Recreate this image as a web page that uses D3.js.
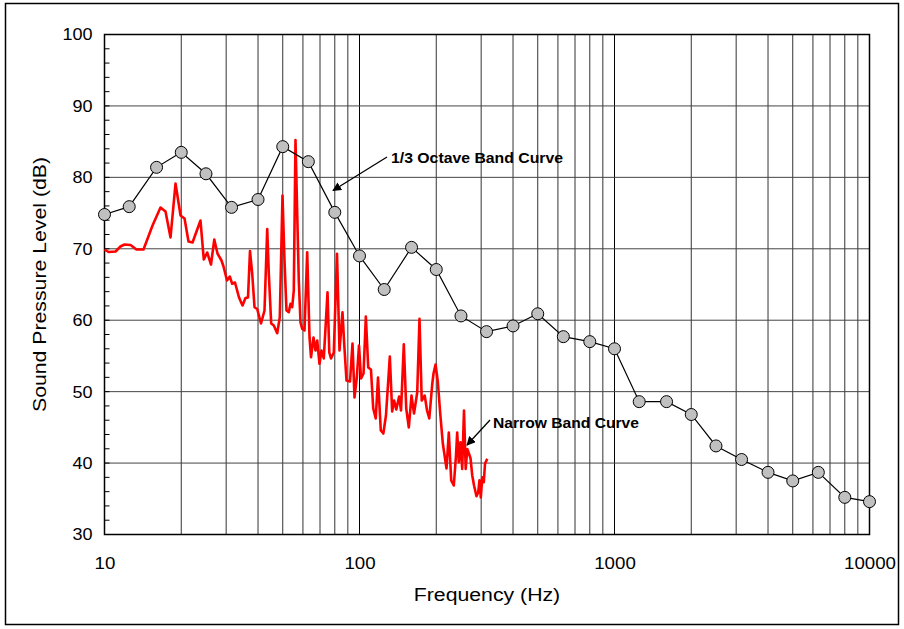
<!DOCTYPE html>
<html><head><meta charset="utf-8">
<script src="https://cdn.jsdelivr.net/npm/d3@7"></script>
<style>body{margin:0;background:#fff}svg{display:block}text{font-family:Arial,"Liberation Sans",sans-serif}</style>
</head><body>
<script>
const octaveFreq = [10,12.5,16,20,25,31.5,40,50,63,80,100,125,160,200,250,315,400,500,630,800,1000,1250,1600,2000,2500,3150,4000,5000,6300,8000,10000];
const octaveDb = [74.8,75.9,81.4,83.5,80.5,75.8,76.9,84.3,82.2,75.1,69.0,64.3,70.2,67.1,60.6,58.4,59.2,60.9,57.7,57.0,56.0,48.6,48.6,46.8,42.4,40.5,38.7,37.5,38.7,35.2,34.6];
const narrowFreq = [10.0,10.37,11.05,11.55,11.98,12.65,13.35,14.22,15.43,16.58,17.35,18.15,18.99,19.87,20.60,21.35,22.14,23.79,24.51,25.28,26.16,26.95,27.74,28.76,29.29,30.23,31.00,31.68,32.49,33.69,34.77,35.72,36.54,37.20,37.95,38.75,39.70,41.09,42.41,43.46,44.09,45.05,46.12,47.56,48.69,49.89,50.80,51.72,52.81,53.63,54.46,55.25,56.10,57.80,58.70,59.61,60.86,62.36,63.67,64.54,66.01,67.22,68.26,69.69,70.96,72.44,74.91,76.13,77.31,79.29,81.62,83.48,85.77,86.94,88.92,91.78,93.87,95.58,97.59,99.55,101.4,103.7,105.9,108.2,110.9,113.2,115.8,118.2,121.2,124.0,127.0,131.5,134.3,136.7,139.4,143.0,145.5,149.2,152.5,156.1,159.9,163.6,168.4,171.9,175.4,180.2,184.0,187.8,192.8,195.1,198.7,202.8,207.3,212.2,219.4,224.0,228.9,234.3,239.0,241.6,245.1,248.9,252.8,256.9,260.9,264.7,272.5,276.7,281.2,287.6,292.1,295.5,299.0,303.1,307.2,310.6,316.8];
const narrowDb = [69.9,69.55,69.62,70.32,70.6,70.53,69.9,69.9,73.26,75.78,75.22,71.58,79.14,74.66,74.24,71.02,70.88,73.96,68.5,69.48,67.8,71.3,69.34,68.36,67.52,65.56,66.12,65.1,65.28,63.18,62.06,63.11,63.18,69.69,66.54,61.82,61.57,59.54,61.36,72.77,66.54,59.54,59.26,58.18,60.42,77.46,68.36,61.36,61.12,62.3,61.82,64.16,85.23,65.56,59.68,58.8,58.56,69.52,57.62,54.82,57.58,55.76,57.16,53.9,55.76,54.64,63.92,55.48,54.64,55.48,69.3,55.76,61.12,57.16,51.56,51.42,56.74,49.18,51.98,56.46,51.84,52.54,60.52,53.38,53.1,47.64,46.24,51.98,44.56,44.14,46.66,54.92,47.22,48.76,47.5,49.32,47.36,56.64,47.64,44.98,49.46,46.94,49.88,60.2,48.76,49.46,47.36,46.24,51.0,52.54,53.8,51.42,46.94,42.74,39.24,44.28,37.56,36.86,41.06,44.28,40.12,42.92,39.18,47.36,39.18,41.98,40.68,38.3,36.9,35.36,35.88,37.6,35.2,38.02,37.32,39.9,40.6];
const xTicks = [10,100,1000,10000];
const yTicks = [30,40,50,60,70,80,90,100];
const xLabel = "Frequency (Hz)";
const yLabel = "Sound Pressure Level (dB)";
const ann1 = "1/3 Octave Band Curve";
const ann2 = "Narrow Band Curve";

const W=904,H=629;
const m={l:104.5,t:34.5,r:869.5,b:534.5};
const svg=d3.select("body").append("svg").attr("width",W).attr("height",H);
svg.append("rect").attr("x",5.5).attr("y",3.5).attr("width",893).attr("height",621).attr("fill","none").attr("stroke","#000").attr("stroke-width",1.5);

function stretch(sel,f){
  sel.each(function(){const L=this.getComputedTextLength();d3.select(this).attr("textLength",L*f).attr("lengthAdjust","spacingAndGlyphs");});
}

const x=d3.scaleLog().domain([10,10000]).range([m.l,m.r]);
const y=d3.scaleLinear().domain([30,100]).range([m.b,m.t]);

const vGrid=[];
for(let d=10;d<10000;d*=10){for(let k=1;k<10;k++){vGrid.push(d*k);}}
vGrid.push(10000);
svg.append("g").selectAll("line").data(vGrid).join("line")
  .attr("x1",d=>x(d)).attr("x2",d=>x(d)).attr("y1",m.t).attr("y2",m.b)
  .attr("stroke",d=>xTicks.includes(d)?"#000":"#333").attr("stroke-width",1);
svg.append("g").selectAll("line").data(yTicks).join("line")
  .attr("x1",m.l).attr("x2",m.r).attr("y1",d=>y(d)).attr("y2",d=>y(d))
  .attr("stroke","#444").attr("stroke-width",1);

const minorY=d3.range(30,100.1,2);
svg.append("g").selectAll("line").data(minorY).join("line")
  .attr("x1",m.l).attr("x2",m.l+5).attr("y1",d=>y(d)).attr("y2",d=>y(d))
  .attr("stroke","#000");

svg.append("rect").attr("x",m.l).attr("y",m.t).attr("width",m.r-m.l).attr("height",m.b-m.t)
  .attr("fill","none").attr("stroke","#000").attr("stroke-width",1.5);

const ax=svg.append("g").attr("transform",`translate(0,${m.b})`)
  .call(d3.axisBottom(x).tickValues(xTicks).tickFormat(d3.format("d")).tickSize(0).tickPadding(22));
ax.select(".domain").remove();
ax.selectAll("text").attr("font-size",17).attr("fill","#000").attr("font-family","Arial, Liberation Sans, sans-serif").call(stretch,1.1);
const ay=svg.append("g").attr("transform",`translate(${m.l},0)`)
  .call(d3.axisLeft(y).tickValues(yTicks).tickSize(0).tickPadding(12));
ay.select(".domain").remove();
ay.selectAll("text").attr("font-size",17).attr("fill","#000").attr("font-family","Arial, Liberation Sans, sans-serif").call(stretch,1.06);

svg.append("text").attr("x",(m.l+m.r)/2).attr("y",601).attr("text-anchor","middle").attr("font-size",18).text(xLabel).call(stretch,1.18);
svg.append("text").attr("transform",`translate(46,${(m.t+m.b)/2}) rotate(-90)`).attr("text-anchor","middle").attr("font-size",18).text(yLabel).call(stretch,1.18);

const nb=narrowFreq.map((f,i)=>[f,narrowDb[i]]);
svg.append("path").datum(nb).attr("d",d3.line().x(d=>x(d[0])).y(d=>y(d[1])))
  .attr("fill","none").attr("stroke","#ff0000").attr("stroke-width",2.6).attr("stroke-linejoin","round");

const ob=octaveFreq.map((f,i)=>[f,octaveDb[i]]);
svg.append("path").datum(ob).attr("d",d3.line().x(d=>x(d[0])).y(d=>y(d[1])))
  .attr("fill","none").attr("stroke","#000").attr("stroke-width",1.2);
svg.append("g").selectAll("circle").data(ob).join("circle")
  .attr("cx",d=>x(d[0])).attr("cy",d=>y(d[1])).attr("r",6)
  .attr("fill","#c0c0c0").attr("stroke","#000").attr("stroke-width",1);

const defs=svg.append("defs");
defs.append("marker").attr("id","ah").attr("viewBox","0 0 10 10").attr("refX",9).attr("refY",5)
  .attr("markerWidth",9).attr("markerHeight",9).attr("markerUnits","userSpaceOnUse").attr("orient","auto")
  .append("path").attr("d","M0,0L10,5L0,10z").attr("fill","#000");
svg.append("line").attr("x1",387).attr("y1",157).attr("x2",333).attr("y2",190.5).attr("stroke","#000").attr("stroke-width",1.3).attr("marker-end","url(#ah)");
svg.append("text").attr("x",391).attr("y",163).attr("font-size",14.5).attr("font-weight","bold")
  .attr("textLength",172).attr("lengthAdjust","spacingAndGlyphs").text(ann1);
svg.append("line").attr("x1",490).attr("y1",420).attr("x2",467).attr("y2",445).attr("stroke","#000").attr("stroke-width",1.3).attr("marker-end","url(#ah)");
svg.append("text").attr("x",493).attr("y",428).attr("font-size",14.5).attr("font-weight","bold")
  .attr("textLength",146).attr("lengthAdjust","spacingAndGlyphs").text(ann2);
</script>
</body></html>
